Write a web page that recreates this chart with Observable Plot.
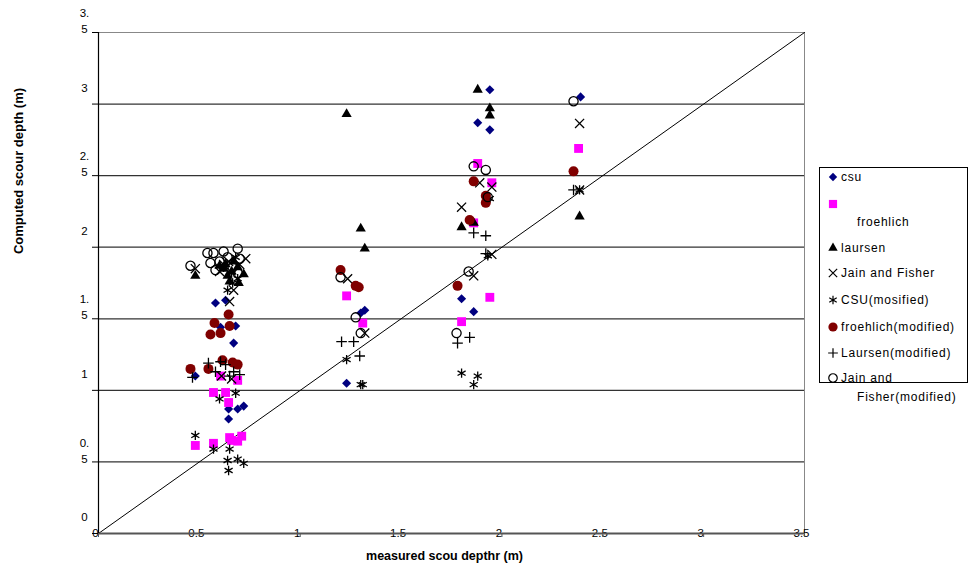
<!DOCTYPE html>
<html><head><meta charset="utf-8">
<script src="https://cdn.jsdelivr.net/npm/d3@7"></script>
<script src="https://cdn.jsdelivr.net/npm/@observablehq/plot@0.6"></script>
<style>
body{margin:0;background:#fff;font-family:"Liberation Sans",Arial,sans-serif;}
#wrap{position:relative;width:970px;height:569px;overflow:hidden;}
#legend{position:absolute;left:0;top:0;}
</style>
</head><body><div id="wrap"></div>
<script>
// ---- data (measured, computed) in metres ----
const csu = [[0.48,1.10],[0.58,1.61],[0.605,1.44],[0.63,1.63],[0.68,1.45],[0.67,1.33],
  [0.645,0.87],[0.69,0.87],[0.72,0.89],[0.645,0.80],
  [1.30,1.54],[1.32,1.56],[1.23,1.05],
  [1.94,3.10],[1.88,2.87],[1.94,2.82],[1.80,1.64],[1.86,1.55],[2.39,3.05]];
const froehlich = [[0.48,0.615],[0.57,0.63],[0.65,0.67],[0.66,0.65],[0.71,0.68],[0.69,0.645],
  [0.605,1.10],[0.69,1.07],[0.57,0.985],[0.63,0.985],[0.645,0.915],
  [1.23,1.66],[1.31,1.47],[1.88,2.585],[1.95,2.45],[1.86,2.17],[1.94,1.65],[1.80,1.48],[2.38,2.69]];
const laursen = [[0.48,1.80],[0.72,1.81],[0.695,1.75],[0.65,1.76],[0.62,1.85],[0.66,1.83],
  [0.63,1.88],[0.67,1.90],[0.64,1.80],[0.69,1.86],[0.60,1.87],
  [1.23,2.93],[1.30,2.13],[1.32,1.99],
  [1.88,3.10],[1.94,2.97],[1.94,2.92],[1.80,2.14],[1.86,2.17],[2.385,2.215]];
const jainFisher = [[0.48,1.85],[0.73,1.92],[0.67,1.70],[0.65,1.62],[0.62,1.88],[0.60,1.83],[0.70,1.88],[0.645,1.90],
  [0.66,1.08],[0.61,1.10],
  [1.235,1.78],[1.32,1.40],
  [1.89,2.45],[1.95,2.42],[1.80,2.28],[1.86,1.80],[1.95,1.95],[2.385,2.865],[2.385,2.40]];
const csuModified = [[0.48,0.685],[0.57,0.59],[0.65,0.59],[0.64,0.51],[0.645,0.44],[0.69,0.52],[0.72,0.49],
  [0.60,0.94],[0.68,0.98],[0.665,1.75],[0.64,1.70],[0.66,1.82],[0.69,1.78],[0.62,1.86],[0.68,1.93],
  [1.23,1.215],[1.30,1.04],[1.31,1.04],
  [1.80,1.12],[1.88,1.10],[1.86,1.04],[1.94,2.34],[1.93,1.94],[2.385,2.40]];
const froehlichModified = [[0.645,1.53],[0.575,1.47],[0.555,1.39],[0.605,1.40],[0.65,1.45],
  [0.456,1.15],[0.615,1.21],[0.665,1.195],[0.69,1.18],[0.545,1.15],
  [1.20,1.84],[1.275,1.73],[1.29,1.72],
  [1.86,2.46],[1.92,2.36],[1.92,2.31],[1.84,2.19],[1.78,1.73],[2.355,2.53]];
const laursenModified = [[0.545,1.19],[0.605,1.20],[0.466,1.09],[0.58,1.13],[0.65,1.10],[0.70,1.11],[0.63,1.18],[0.67,1.13],
  [1.205,1.34],[1.265,1.34],[1.295,1.24],
  [1.78,1.33],[1.84,1.37],[1.86,2.10],[1.92,2.08],[1.92,1.955],[2.355,2.40]];
const jainFisherModified = [[0.456,1.87],[0.54,1.96],[0.57,1.96],[0.62,1.97],[0.69,1.99],[0.555,1.89],[0.665,1.86],[0.69,1.82],[0.60,1.90],[0.64,1.93],[0.58,1.84],[0.70,1.92],
  [1.20,1.79],[1.275,1.51],[1.30,1.40],
  [1.86,2.565],[1.92,2.54],[1.93,2.35],[1.835,1.83],[1.775,1.40],[2.355,3.02]];

const xTicks = [0,0.5,1,1.5,2,2.5,3,3.5];
const xTickLabels = ["0","0.5","1","1.5","2","2.5","3","3.5"];
const yTicks = [0,0.5,1,1.5,2,2.5,3,3.5];
const yTickLabels = ["0","0.\n5","1","1.\n5","2","2.\n5","3","3.\n5"];
const gridValues = [0.5,1,1.5,2,2.5,3];
const xTitle = "measured scou depthr (m)";
const yTitle = "Computed scour depth (m)";
const domain = [0,3.5];

// ---- series styling ----
const series = [
  {name:"csu", data:csu, symbol:"diamond2", fill:"#000080", stroke:"none", r:4.1, d3s:d3.symbolDiamond2},
  {name:"froehlich", data:froehlich, symbol:"square", fill:"#ff00ff", stroke:"none", r:5, d3s:d3.symbolSquare},
  {name:"laursen", data:laursen, symbol:"triangle", fill:"#000", stroke:"none", r:3.8, d3s:d3.symbolTriangle},
  {name:"Jain and Fisher", data:jainFisher, symbol:"times", fill:"none", stroke:"#000", r:4.2, d3s:d3.symbolTimes},
  {name:"CSU(mosified)", data:csuModified, symbol:"asterisk", fill:"none", stroke:"#000", r:4.4, d3s:d3.symbolAsterisk},
  {name:"froehlich(modified)", data:froehlichModified, symbol:"circle", fill:"#800000", stroke:"none", r:5, d3s:d3.symbolCircle},
  {name:"Laursen(modified)", data:laursenModified, symbol:"plus", fill:"none", stroke:"#000", r:3.5, d3s:d3.symbolPlus},
  {name:"Jain and Fisher(modified)", data:jainFisherModified, symbol:"circle", fill:"none", stroke:"#000", r:4.6, d3s:d3.symbolCircle}
];

const yRows = yTicks.map((v,i)=>({v, lines: yTickLabels[i].split("\n")}));
const ySingle = yRows.filter(d=>d.lines.length===1).map(d=>({v:d.v,t:d.lines[0]}));
const yFirst = yRows.filter(d=>d.lines.length>1).map(d=>({v:d.v,t:d.lines[0]}));
const ySecond = yRows.filter(d=>d.lines.length>1).map(d=>({v:d.v,t:d.lines[1]}));
const diag = domain.map(v=>({x:v,y:v}));

const chart = Plot.plot({
  width: 970, height: 569,
  marginLeft: 98, marginRight: 166, marginTop: 32, marginBottom: 36,
  x: {domain}, y: {domain},
  style: {fontFamily: "'Liberation Sans', Arial, sans-serif", fontSize: "11px", background: "white", color: "black", overflow: "visible"},
  marks: [
    Plot.ruleY(gridValues, {stroke: "#333", strokeWidth: 1.2}),
    Plot.ruleY([domain[1]], {stroke: "#888"}),
    Plot.ruleX([domain[1]], {stroke: "#888"}),
    Plot.line(diag, {x: "x", y: "y", stroke: "#000", strokeWidth: 1}),
    ...series.map(s => Plot.dot(s.data, {x: d=>d[0], y: d=>d[1], symbol: ()=>s.symbol, fill: s.fill, stroke: s.stroke, r: s.r, strokeWidth: 1.3})),
    Plot.text(xTicks, {x: d=>d, y: 0, text: (d,i)=>xTickLabels[i], dx: -3, lineAnchor: "middle", textAnchor: "middle", fontSize: 11.5}),
    Plot.ruleY([0], {stroke: "#555", strokeWidth: 2}),
    Plot.axisX({ticks: xTicks, tickSize: 4, tickFormat: ()=>"", label: null, stroke: "#555"}),
    Plot.ruleX([0], {stroke: "#000", strokeWidth: 1.2}),
    Plot.axisY({ticks: yTicks, tickSize: 6, tickFormat: ()=>"", label: null}),
    Plot.text(ySingle, {x: 0, y: "v", text: "t", dx: -14, dy: -16, textAnchor: "middle", fontSize: 11.5}),
    Plot.text(yFirst, {x: 0, y: "v", text: "t", dx: -14, dy: -19, textAnchor: "middle", fontSize: 11.5}),
    Plot.text(ySecond, {x: 0, y: "v", text: "t", dx: -14, dy: -3, textAnchor: "middle", fontSize: 11.5}),
    Plot.text([xTitle], {frameAnchor: "bottom", text: d=>d, dy: 26, dx: -7, textAnchor: "middle", fontWeight: "bold", fontSize: 12.5}),
    Plot.text([yTitle], {frameAnchor: "left", text: d=>d, dx: -80, dy: -112, rotate: -90, textAnchor: "middle", fontWeight: "bold", fontSize: 13})
  ]
});
const wrap = document.getElementById("wrap");
wrap.appendChild(chart);

// ---- legend ----
const lg = d3.select(wrap).append("svg").attr("id","legend").attr("width",970).attr("height",569)
  .style("font-family","'Liberation Sans', Arial, sans-serif").style("font-size","12px");
lg.append("rect").attr("x",819.5).attr("y",167.5).attr("width",148).attr("height",215).attr("fill","white").attr("stroke","#000");
const entries = [
  {sy:177, lines:[{t:"csu",x:841,y:177}]},
  {sy:204, lines:[{t:"froehlich",x:857,y:222}]},
  {sy:248, lines:[{t:"laursen",x:841,y:248}]},
  {sy:273, lines:[{t:"Jain and Fisher",x:841,y:273}]},
  {sy:300, lines:[{t:"CSU(mosified)",x:841,y:300}]},
  {sy:327, lines:[{t:"froehlich(modified)",x:841,y:327}]},
  {sy:353, lines:[{t:"Laursen(modified)",x:841,y:353}]},
  {sy:378, lines:[{t:"Jain and",x:841,y:378},{t:"Fisher(modified)",x:857,y:397}]}
];
entries.forEach((e,i)=>{
  const s = series[i];
  lg.append("path").attr("transform",`translate(833,${e.sy})`)
    .attr("d", d3.symbol(s.d3s, Math.PI*s.r*s.r*0.85)())
    .attr("fill", s.fill).attr("stroke", s.stroke).attr("stroke-width",1.2);
  e.lines.forEach(l=>{
    lg.append("text").attr("x",l.x).attr("y",l.y).attr("dy","0.35em").attr("letter-spacing","0.8px").text(l.t);
  });
});
</script>
</body></html>
